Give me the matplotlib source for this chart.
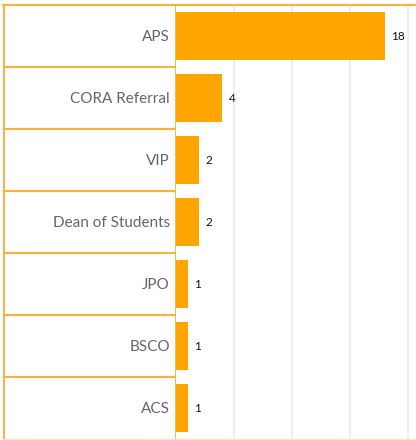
import matplotlib
matplotlib.use("Agg")
import matplotlib.pyplot as plt
from matplotlib.lines import Line2D

categories = ["APS", "CORA Referral", "VIP", "Dean of Students", "JPO", "BSCO", "ACS"]
values = [18, 4, 2, 2, 1, 1, 1]
grid_ticks = [5, 10, 15, 20]

W, H = 416, 440
fig = plt.figure(figsize=(W / 100, H / 100), dpi=100)
plt.rcParams['font.family'] = ['Lato', 'DejaVu Sans']

top_px, bot_px = 5, 439
left_px = 176
bar_color = "#FFA500"
line_color = "#F7B13C"

ax = fig.add_axes([left_px / W, 1 - bot_px / H, (W - left_px) / W, (bot_px - top_px) / H])
n = len(categories)
ys = list(range(n))
ax.barh(ys, values, height=0.76, color=bar_color, zorder=3)
ax.set_ylim(n - 0.5, -0.5)
ax.set_xlim(0, (W - left_px) / 11.6)
for g in grid_ticks:
    ax.axvline(g, color="#eeeeee", lw=1.5, zorder=1)
for y, v in zip(ys, values):
    ax.annotate(str(v), (v, y), xytext=(4.5, 0), textcoords="offset points",
                va="center", ha="left", fontsize=8.5, color="#111111")
for s in ax.spines.values():
    s.set_visible(False)
ax.set_xticks([])
ax.set_yticks([])

# label table
lab = fig.add_axes([3 / W, 1 - bot_px / H, (left_px - 3) / W, (bot_px - top_px) / H])
lab.set_xlim(0, 1)
lab.set_ylim(n, 0)
lab.axis("off")
for i, c in enumerate(categories):
    lab.text(0.965, i + 0.52, c, ha="right", va="center", fontsize=11, color="#666666")
for i in range(1, n):
    lab.axhline(i, color=line_color, lw=1.5)
lab.axvline(0, color=line_color, lw=2)
lab.axvline(1, color=line_color, lw=2)

# top border across full width
fig.add_artist(Line2D([3 / W, 1], [1 - top_px / H, 1 - top_px / H], color=line_color, lw=1.5, transform=fig.transFigure))
fig.add_artist(Line2D([3 / W, 1], [1 - bot_px / H, 1 - bot_px / H], color="#fde3c0", lw=1, transform=fig.transFigure))

fig.savefig("out.png", dpi=100)
